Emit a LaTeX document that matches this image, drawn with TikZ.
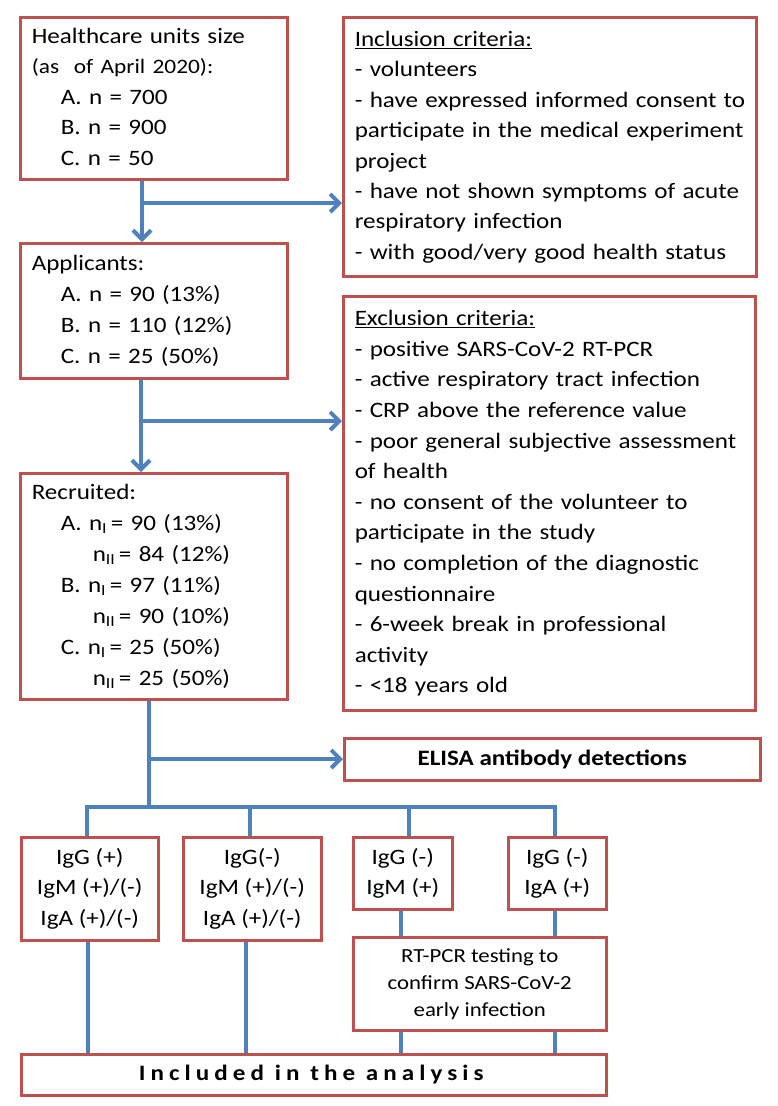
\documentclass[tikz,border=0pt]{standalone}
\usepackage{fontspec}
\setmainfont{Carlito}[FakeStretch=1.14]
\usetikzlibrary{arrows.meta}
\definecolor{boxred}{RGB}{192,80,77}
\definecolor{flowblue}{RGB}{79,129,189}
\begin{document}
\begin{tikzpicture}[x=1pt,y=-1pt,
  box/.style={draw=boxred, line width=2.5pt, fill=white, inner sep=0pt, anchor=north west},
  lbox/.style={box, inner xsep=11.5pt, text width=#1, align=left, font=\fontsize{22}{30.4}\selectfont},
  cbox/.style={box, align=center, font=\fontsize{22}{30.4}\selectfont},
  flow/.style={draw=flowblue, line width=4pt, line join=miter},
  arr/.style={flow, -{Straight Barb[length=9pt,width=18pt]}},
]
\useasboundingbox (0,0) rectangle (778,1106);

% boxes
\node[lbox=244, minimum height=162] (hc) at (19,16) {\begin{tabular}{@{}l@{}}Healthcare units size\\
{\fontsize{20.5}{30.4}\selectfont (as\ \ of April 2020):}\\
\hspace*{29pt}A. n = 700\\
\hspace*{29pt}B. n = 900\\
\hspace*{29pt}C. n = 50\end{tabular}};

\node[lbox=390, minimum height=259] (inc) at (342,16) {\begin{tabular}{@{}l@{}}\underline{Inclusion criteria:}\\
- volunteers\\
- have expressed informed consent to\\
participate in the medical experiment\\
project\\
- have not shown symptoms of acute\\
respiratory infection\\
- with good/very good health status\end{tabular}};

\node[lbox=244, minimum height=135, font=\fontsize{22}{31}\selectfont] (app) at (19,242) {\begin{tabular}{@{}l@{}}Applicants:\\
\hspace*{29pt}A. n = 90 (13\%)\\
\hspace*{29pt}B. n = 110 (12\%)\\
\hspace*{29pt}C. n = 25 (50\%)\end{tabular}};

\node[lbox=389, minimum height=414, font=\fontsize{22}{30.6}\selectfont] (exc) at (342,295) {\begin{tabular}{@{}l@{}}\underline{Exclusion criteria:}\\
- positive SARS-CoV-2 RT-PCR\\
- active respiratory tract infection\\
- CRP above the reference value\\
- poor general subjective assessment\\
of health\\
- no consent of the volunteer to\\
participate in the study\\
- no completion of the diagnostic\\
questionnaire\\
- 6-week break in professional\\
activity\\
- <18 years old\end{tabular}};

\node[lbox=244, minimum height=226, font=\fontsize{22}{31}\selectfont] (rec) at (19,472) {\begin{tabular}{@{}l@{}}Recruited:\\
\hspace*{29pt}A. n\textsubscript{I}\,= 90 (13\%)\\
\hspace*{61pt}n\textsubscript{II}\,= 84 (12\%)\\
\hspace*{29pt}B. n\textsubscript{I}\,= 97 (11\%)\\
\hspace*{61pt}n\textsubscript{II}\,= 90 (10\%)\\
\hspace*{29pt}C. n\textsubscript{I}\,= 25 (50\%)\\
\hspace*{61pt}n\textsubscript{II}\,= 25 (50\%)\end{tabular}};

\node[cbox, minimum width=416, minimum height=42] (elisa) at (343,737) {\textbf{ELISA antibody detections}};

\node[cbox, minimum width=137, minimum height=103] (ga) at (20,836) {IgG (+)\\IgM (+)/(-)\\IgA (+)/(-)};
\node[cbox, minimum width=138, minimum height=103] (gb) at (182,836) {IgG(-)\\IgM (+)/(-)\\IgA (+)/(-)};
\node[cbox, minimum width=99, minimum height=72] (gc) at (352,836) {IgG (-)\\IgM (+)};
\node[cbox, minimum width=98, minimum height=72] (gd) at (507,836) {IgG (-)\\IgA (+)};
\node[cbox, minimum width=253, minimum height=93, font=\fontsize{20}{27}\selectfont] (rt) at (352,936) {RT-PCR testing to\\confirm SARS-CoV-2\\early infection};
\node[cbox, minimum width=585, minimum height=41] (incl) at (20,1053) {\textbf{\addfontfeature{LetterSpace=23}Included in the analysis}};

% connectors
\coordinate (t1) at (142,203);
\coordinate (t2) at (141,421);
\coordinate (t3) at (149,759);
\coordinate (busL) at (87,807);
\coordinate (busR) at (555,807);
\coordinate (b0) at (149,807);
\coordinate (dB) at (250,807);
\coordinate (dC) at (409,807);
\coordinate (lA) at (88,1000);
\coordinate (lB) at (246,1000);
\coordinate (lC) at (401,1000);
\coordinate (lD) at (555,1000);

\draw[arr] (hc.south -| t1) -- (app.north -| t1);
\draw[arr] (t1) -- (inc.west |- t1);
\draw[arr] (app.south -| t2) -- (rec.north -| t2);
\draw[arr] (t2) -- (exc.west |- t2);
\draw[flow] (rec.south -| t3) -- (b0);
\draw[arr] (t3) -- (elisa.west |- t3);
\draw[flow] (ga.north -| busL) -- (busL) -- (busR) -- (gd.north -| busR);
\draw[flow] (dB) -- (gb.north -| dB);
\draw[flow] (dC) -- (gc.north -| dC);
\draw[flow] (ga.south -| lA) -- (incl.north -| lA);
\draw[flow] (gb.south -| lB) -- (incl.north -| lB);
\draw[flow] (gc.south -| lC) -- (rt.north -| lC);
\draw[flow] (rt.south -| lC) -- (incl.north -| lC);
\draw[flow] (gd.south -| lD) -- (rt.north -| lD);
\draw[flow] (rt.south -| lD) -- (incl.north -| lD);
\end{tikzpicture}
\end{document}
